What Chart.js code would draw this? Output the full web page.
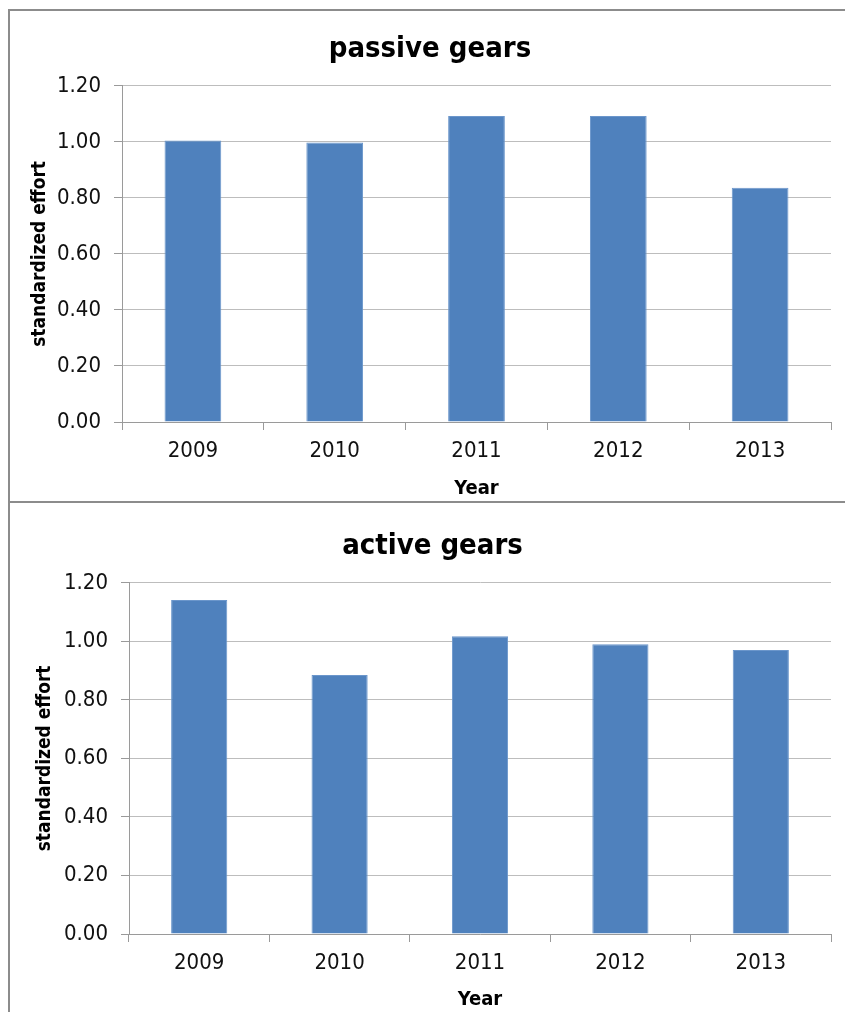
<!DOCTYPE html>
<html>
<head>
<meta charset="utf-8">
<script src="https://cdn.jsdelivr.net/npm/chart.js@4.4.1/dist/chart.umd.min.js"></script>
<style>
  html, body { margin: 0; padding: 0; background: #fff; }
  body { width: 845px; height: 1012px; position: relative; overflow: hidden; }
  .panel { position: absolute; box-sizing: border-box; border: 2px solid #8c8c8c; background: #fff; }
  #p1 { left: 8px; top: 9px; width: 860px; height: 494px; }
  #p2 { left: 8px; top: 501px; width: 860px; height: 540px; }
  .wrap { position: absolute; }
  #w1 { left: 10px; top: 11px; width: 835px; height: 490px; }
  #w2 { left: 10px; top: 503px; width: 835px; height: 509px; }
</style>
</head>
<body>
<div class="panel" id="p1"></div>
<div class="panel" id="p2"></div>
<div class="wrap" id="w1"><canvas id="c1"></canvas></div>
<div class="wrap" id="w2"><canvas id="c2"></canvas></div>
<script>
const years = ['2009', '2010', '2011', '2012', '2013'];
const passiveEffort = [1.005, 0.998, 1.092, 1.092, 0.836];
const activeEffort = [1.141, 0.885, 1.017, 0.990, 0.970];
const yAxisMin = 0;
const yAxisMax = 1.2;
const yAxisStep = 0.2;

const FONT = "'Liberation Sans Narrow', 'DejaVu Sans Condensed', Arial, sans-serif";

function makeChart(id, title, values, padLeft, yWidth, xHeight, titlePadTop, titlePadBottom) {
  const ctx = document.getElementById(id);
  return new Chart(ctx, {
    type: 'bar',
    data: {
      labels: years,
      datasets: [{
        data: values,
        backgroundColor: '#4F81BD',
        borderColor: '#6B96CB',
        borderWidth: 1,
        categoryPercentage: 1.0,
        barPercentage: 0.40
      }]
    },
    options: {
      responsive: true,
      maintainAspectRatio: false,
      animation: false,
      layout: { padding: { left: padLeft, right: 14, top: 0, bottom: 0 } },
      plugins: {
        legend: { display: false },
        tooltip: { enabled: false },
        title: {
          display: true,
          text: title,
          color: '#000',
          font: { family: FONT, size: 29, weight: 'bold' },
          padding: { top: titlePadTop, bottom: titlePadBottom }
        }
      },
      scales: {
        x: {
          offset: true,
          grid: {
            offset: true,
            drawOnChartArea: false,
            drawTicks: true,
            tickLength: 8,
            color: '#9a9a9a'
          },
          border: { display: true, color: '#9a9a9a', width: 1 },
          ticks: { color: '#111', font: { family: FONT, size: 22 }, padding: 8, maxRotation: 0 },
          title: {
            display: true,
            text: 'Year',
            color: '#000',
            font: { family: FONT, size: 20, weight: 'bold' },
            padding: { top: 3, bottom: 0 }
          },
          afterFit: (scale) => { scale.height = xHeight; }
        },
        y: {
          min: yAxisMin,
          max: yAxisMax,
          grid: {
            color: '#bdbdbd',
            lineWidth: 1,
            drawTicks: true,
            tickLength: 8,
            tickColor: '#9a9a9a'
          },
          border: { display: true, color: '#9a9a9a', width: 1 },
          ticks: {
            stepSize: yAxisStep,
            color: '#111',
            font: { family: FONT, size: 22 },
            padding: 13,
            callback: (v) => Number(v).toFixed(2)
          },
          title: {
            display: true,
            text: 'standardized effort',
            color: '#000',
            font: { family: FONT, size: 19, weight: 'bold' },
            padding: { top: 0, bottom: 0 }
          },
          afterFit: (scale) => { scale.width = yWidth; }
        }
      }
    }
  });
}

makeChart('c1', 'passive gears', passiveEffort, 19, 93, 79, 21, 19);
makeChart('c2', 'active gears', activeEffort, 24, 95, 78, 26, 19);
</script>
</body>
</html>
